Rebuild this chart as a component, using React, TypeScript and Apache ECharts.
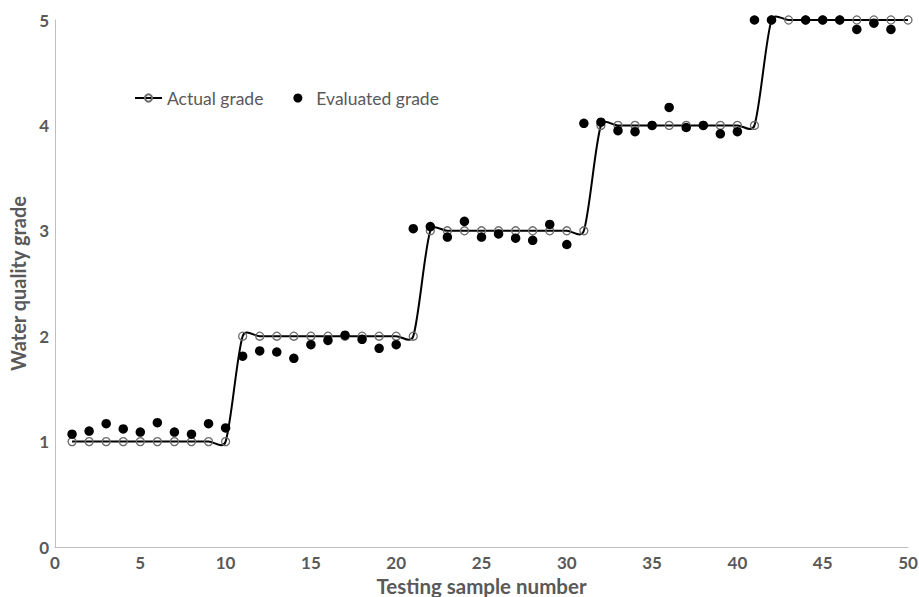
import React, { useEffect, useRef } from "react";
import * as echarts from "echarts";

const sampleNumbers = Array.from({ length: 50 }, (_, i) => i + 1);
const actualGrade = [
  1, 1, 1, 1, 1, 1, 1, 1, 1, 1,
  2, 2, 2, 2, 2, 2, 2, 2, 2, 2, 2,
  3, 3, 3, 3, 3, 3, 3, 3, 3, 3,
  4, 4, 4, 4, 4, 4, 4, 4, 4, 4,
  5, 5, 5, 5, 5, 5, 5, 5, 5,
];
const evaluatedGrade: (number | null)[] = [
  1.07, 1.10, 1.17, 1.12, 1.09, 1.18, 1.09, 1.07, 1.17, 1.13,
  1.81, 1.86, 1.85, 1.79, 1.92, 1.96, 2.01, 1.97, 1.885, 1.92,
  3.02, 3.04, 2.94, 3.09, 2.94, 2.97, 2.93, 2.91, 3.06, 2.87,
  4.02, 4.03, 3.95, 3.94, 4.00, 4.17, 3.98, 4.00, 3.92, 3.94,
  5.0, 5.0, null, 5.0, 5.0, 5.0, 4.91, 4.97, 4.91, null,
];
const xTicks = { min: 0, max: 50, interval: 5 };
const yTicks = { min: 0, max: 5, interval: 1 };

function smoothPath(pts: number[][]): string {
  const n = pts.length;
  const tan = pts.map((p, i) => {
    const a = pts[Math.max(0, i - 1)];
    const b = pts[Math.min(n - 1, i + 1)];
    let vx = b[0] - a[0];
    let vy = b[1] - a[1];
    if (i === 0 || i === n - 1) {
      vx *= 2;
      vy *= 2;
    }
    const len = Math.hypot(vx, vy) || 1;
    return { ux: vx / len, uy: vy / len, len };
  });
  let d = `M${pts[0][0]},${pts[0][1]}`;
  for (let i = 0; i < n - 1; i++) {
    const p0 = pts[i];
    const p1 = pts[i + 1];
    const seg = Math.hypot(p1[0] - p0[0], p1[1] - p0[1]);
    const k0 = Math.min(tan[i].len / 6, 0.5 * seg);
    const k1 = Math.min(tan[i + 1].len / 6, 0.5 * seg);
    const c1 = [p0[0] + tan[i].ux * k0, p0[1] + tan[i].uy * k0];
    const c2 = [p1[0] - tan[i + 1].ux * k1, p1[1] - tan[i + 1].uy * k1];
    d += ` C${c1[0]},${c1[1]} ${c2[0]},${c2[1]} ${p1[0]},${p1[1]}`;
  }
  return d;
}

export default function App() {
  const ref = useRef<HTMLDivElement>(null);
  useEffect(() => {
    if (!ref.current) return;
    const chart = echarts.init(ref.current, undefined, { renderer: "svg" });
    const gray = "#595959";
    const actualPoints = sampleNumbers.map((x, i) => [x, actualGrade[i]]);
    chart.setOption({
      animation: false,
      backgroundColor: "#ffffff",
      textStyle: { fontFamily: "Lato" },
      grid: {
        left: 55,
        right: 11,
        top: 20,
        bottom: 50,
        containLabel: false,
        outerBoundsMode: "none",
      },
      legend: {
        left: 134,
        top: 89,
        padding: 0,
        itemGap: 30,
        itemWidth: 27,
        itemHeight: 9,
        textStyle: { color: gray, fontSize: 17.5, fontFamily: "Lato" },
        data: [
          {
            name: "Actual grade",
            lineStyle: { color: "#000", width: 2, opacity: 1 },
          },
          { name: "Evaluated grade", icon: "circle", itemStyle: { color: "#000", opacity: 1 } },
        ],
      },
      xAxis: {
        type: "value",
        min: xTicks.min,
        max: xTicks.max,
        interval: xTicks.interval,
        name: "Testing sample number",
        nameLocation: "middle",
        nameGap: 27,
        nameTextStyle: { color: gray, fontSize: 20.5, fontWeight: "bold", fontFamily: "Lato" },
        axisLine: { show: true, lineStyle: { color: "#bfbfbf", width: 1 } },
        axisTick: { show: false },
        splitLine: { show: false },
        axisLabel: { color: gray, fontSize: 17, fontWeight: "bold", margin: 7 },
      },
      yAxis: {
        type: "value",
        min: yTicks.min,
        max: yTicks.max,
        interval: yTicks.interval,
        name: "Water quality grade",
        nameLocation: "middle",
        nameGap: 25,
        nameTextStyle: { color: gray, fontSize: 20, fontWeight: "bold", fontFamily: "Lato" },
        axisLine: { show: true, lineStyle: { color: "#bfbfbf", width: 1 } },
        axisTick: { show: false },
        splitLine: { show: false },
        axisLabel: { color: gray, fontSize: 17, fontWeight: "bold", margin: 6 },
      },
      series: [
        {
          name: "actual-curve",
          type: "custom",
          data: actualPoints,
          silent: true,
          z: 1,
          renderItem: (params: any, api: any) => {
            if (params.dataIndex !== 0) return null;
            const px = actualPoints.map((p) => api.coord(p));
            return {
              type: "path",
              shape: { pathData: smoothPath(px) },
              style: { fill: "none", stroke: "#000", lineWidth: 2 },
            };
          },
        },
        {
          name: "Actual grade",
          type: "line",
          data: actualPoints,
          symbol: "circle",
          symbolSize: 8,
          showSymbol: true,
          lineStyle: { color: "#000", width: 2, opacity: 0 },
          itemStyle: { color: "rgba(255,255,255,0)", borderColor: "#6b6b6b", borderWidth: 1.3 },
          z: 2,
        },
        {
          name: "Evaluated grade",
          type: "scatter",
          data: sampleNumbers
            .map((x, i) => [x, evaluatedGrade[i]])
            .filter((d) => d[1] !== null),
          symbol: "circle",
          symbolSize: 9.5,
          itemStyle: { color: "#000", opacity: 1 },
          z: 3,
        },
      ],
    });
    return () => chart.dispose();
  }, []);
  return <div ref={ref} style={{ width: 919, height: 597, position: "absolute", left: 0, top: 0 }} />;
}
